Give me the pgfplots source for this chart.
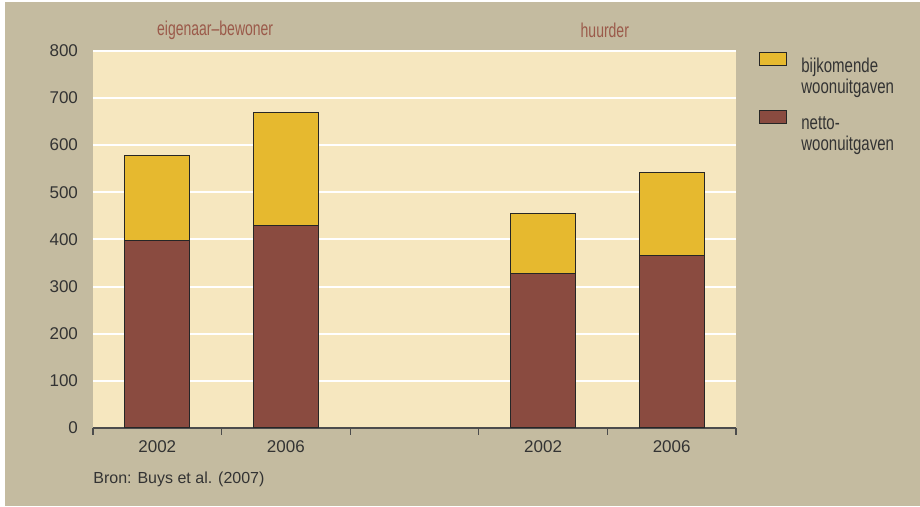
\documentclass[border=0pt]{standalone}
\usepackage{pgfplots}
\pgfplotsset{compat=1.18}
\usepackage{fontspec}
\setmainfont{Liberation Sans}
\newfontfamily\condfont[FakeStretch=0.75]{Liberation Sans}
\newfontfamily\kopfont[FakeStretch=0.7]{Liberation Sans}
\definecolor{pagebg}{HTML}{C4BBA0}
\definecolor{plotbg}{HTML}{F6E7BF}
\definecolor{goud}{HTML}{E6B92F}
\definecolor{bruin}{HTML}{8A4B40}
\definecolor{kop}{HTML}{9B5A4A}
\definecolor{tekst}{HTML}{333333}

\begin{document}
\begin{tikzpicture}
% achtergrond
\fill[white] (-46.5pt,-39.5pt) rectangle (413.5pt,214pt);
\fill[pagebg] (-44pt,-39pt) rectangle (413.5pt,213pt);
\begin{axis}[
  at={(0,0)}, anchor=south west,
  scale only axis, width=321.5pt, height=188.65pt,
  ybar stacked, bar width=0.505,
  xmin=-0.5, xmax=4.5, ymin=0, ymax=800,
  xtick={0,1,3,4}, xticklabels={2002,2006,2002,2006},
  minor xtick={-0.5,0.5,...,4.5},
  ytick={0,100,...,800},
  axis x line=bottom, axis y line=left,
  axis line style={-},
  x axis line style={draw=black!70, line width=0.6pt},
  y axis line style={draw=none},
  major tick length=0pt, minor tick length=3.5pt,
  tick align=outside,
  minor tick style={draw=black!70, line width=0.6pt},
  ymajorgrids, major grid style={white, line width=1pt},
  axis background/.style={fill=plotbg},
  /pgf/number format/assume math mode=true,
  tick label style={font=\fontsize{8.5}{10}\selectfont, text=tekst},
  yticklabel style={xshift=-4pt},
  xticklabel style={yshift=-3pt},
  clip=false,
  reverse legend,
  legend style={at={(1,1)}, anchor=north west, xshift=11.5pt, yshift=-0.5pt, draw=none, fill=none,
    font=\condfont\fontsize{10}{10.4}\selectfont, text=tekst, inner sep=0pt,
    nodes={inner sep=0pt}, column sep=7pt, row sep=17.5pt},
  legend cell align=left,
  legend image code/.code={\draw[#1, draw=black!85, line width=0.5pt] (0pt,0.5pt) rectangle (13.5pt,7pt);},
]
\addplot[fill=bruin, draw=black!85, line width=0.5pt] coordinates {(0,398) (1,430) (3,327) (4,365)};
\addlegendentry{\parbox[t]{50pt}{netto-\\woonuitgaven}}
\addplot[fill=goud, draw=black!85, line width=0.5pt] coordinates {(0,179) (1,239) (3,128) (4,177)};
\addlegendentry{\parbox[t]{50pt}{bijkomende\\woonuitgaven}}
\node[font=\kopfont\fontsize{10}{10}\selectfont, text=kop] at (axis cs:0.45,843) {eigenaar–bewoner};
\node[font=\kopfont\fontsize{10}{10}\selectfont, text=kop] at (axis cs:3.48,843) {huurder};
\end{axis}
\node[anchor=west, inner sep=0pt, font=\fontsize{8}{10}\selectfont, text=tekst] at (0pt,-25.5pt) {Bron: Buys et al. (2007)};
\end{tikzpicture}
\end{document}
